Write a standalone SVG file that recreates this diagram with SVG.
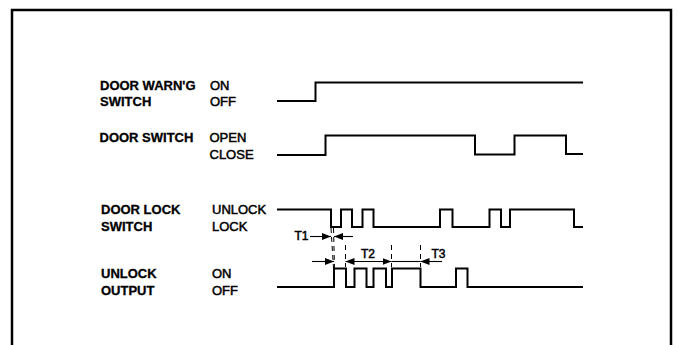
<svg xmlns="http://www.w3.org/2000/svg" width="678" height="345" viewBox="0 0 678 345">
<style>
.bg{fill:#fff}
.frame{fill:none;stroke:#000;stroke-width:2.5}
.wave{fill:none;stroke:#000;stroke-width:2;stroke-linejoin:miter}
.dim{fill:none;stroke:#000;stroke-width:1.1}
.dash{fill:none;stroke:#000;stroke-width:1;stroke-dasharray:5 4}
.name{font-family:"Liberation Sans",Arial,sans-serif;font-size:13px;font-weight:bold;fill:#000;stroke:#000;stroke-width:0.3}
.state{font-family:"Liberation Sans",Arial,sans-serif;font-size:13px;fill:#000;stroke:#000;stroke-width:0.5}
.tl{font-family:"Liberation Sans",Arial,sans-serif;font-size:12px;fill:#000;stroke:#000;stroke-width:0.5}
</style>
<defs>
<marker id="arr" markerUnits="userSpaceOnUse" markerWidth="9" markerHeight="7" refX="9" refY="3.5" orient="auto-start-reverse">
<path d="M0,0 L9,3.5 L0,7 z" fill="#000"/>
</marker>
</defs>
<rect class="bg" x="0" y="0" width="678" height="345"/>
<path class="frame" d="M12,347 V10 H671 V347"/>

<g id="door-warng-switch">
<text class="name" x="100" y="89.5">DOOR WARN'G</text>
<text class="name" x="100" y="105.5">SWITCH</text>
<text class="state" x="210" y="89.5">ON</text>
<text class="state" x="210" y="105.5">OFF</text>
<path class="wave" d="M277,101 H315.5 V82.5 H583"/>
</g>

<g id="door-switch">
<text class="name" x="99.5" y="141.5">DOOR SWITCH</text>
<text class="state" x="209.5" y="141.5">OPEN</text>
<text class="state" x="209.5" y="159">CLOSE</text>
<path class="wave" d="M277,155 H325.5 V135.5 H475 V154.5 H514.5 V135.5 H566 V154 H583"/>
</g>

<g id="door-lock-switch">
<text class="name" x="101" y="214">DOOR LOCK</text>
<text class="name" x="101" y="231">SWITCH</text>
<text class="state" x="212" y="214">UNLOCK</text>
<text class="state" x="212" y="231">LOCK</text>
<path class="wave" d="M277,209.5 H331 V227 H341 V209.5 H352 V227 H362.5 V209.5 H373.5 V227 H440 V209.5 H452.5 V227 H489.5 V209.5 H501 V227 H510 V209.5 H574 V227 H583"/>
</g>

<g id="unlock-output">
<text class="name" x="101" y="278">UNLOCK</text>
<text class="name" x="101" y="295">OUTPUT</text>
<text class="state" x="212" y="278">ON</text>
<text class="state" x="212" y="295">OFF</text>
<path class="wave" d="M277,287 H334 V268.5 H346 V287 H354.5 V268.5 H366.5 V287 H373.5 V268.5 H386 V287 H392 V268.5 H420.5 V287 H456 V268.5 H467.5 V287 H583"/>
</g>

<g id="connectors">
<path class="dash" d="M331,228 L333.5,268"/>
<path class="dash" d="M333.5,228 L334.5,268"/>
<path class="dash" d="M345.5,245 V267"/>
<path class="dash" d="M391.5,245 V267"/>
<path class="dash" d="M420.5,245 V267"/>
<line class="dim" x1="310" y1="236.5" x2="331" y2="236.5" marker-end="url(#arr)"/>
<line class="dim" x1="353" y1="236.5" x2="334" y2="236.5" marker-end="url(#arr)"/>
<line class="dim" x1="312" y1="261.5" x2="334" y2="261.5" marker-end="url(#arr)"/>
<line class="dim" x1="345.5" y1="261.5" x2="391.5" y2="261.5" marker-start="url(#arr)" marker-end="url(#arr)"/>
<line class="dim" x1="391.5" y1="261.5" x2="420.5" y2="261.5"/>
<line class="dim" x1="442" y1="261.5" x2="420.5" y2="261.5" marker-end="url(#arr)"/>
</g>

<g id="labels">
<text class="tl" x="294.5" y="239.5">T1</text>
<text class="tl" x="361" y="257.5">T2</text>
<text class="tl" x="431.5" y="258">T3</text>
</g>
</svg>
